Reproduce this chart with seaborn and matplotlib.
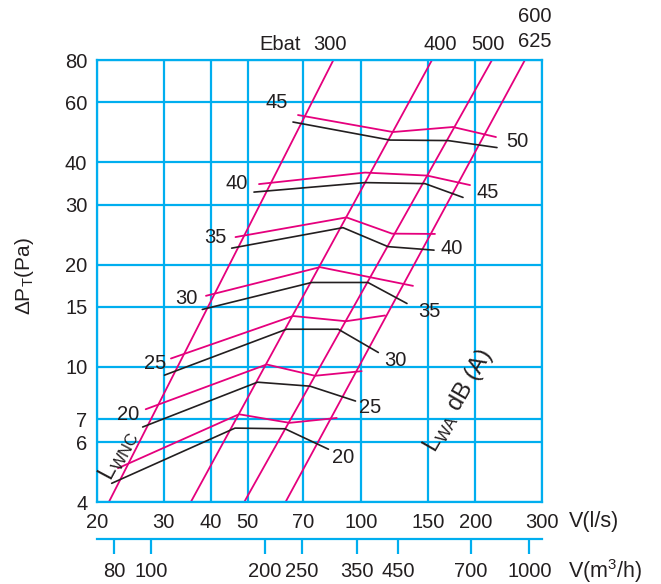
import numpy as np
import matplotlib
matplotlib.use("Agg")
import matplotlib.pyplot as plt
import seaborn as sns
from matplotlib.ticker import FixedLocator, FixedFormatter, NullLocator

# ---- axis ticks -------------------------------------------------------------
flow_ticks_ls = [20, 30, 40, 50, 70, 100, 150, 200, 300]
flow_ticks_m3h = [80, 100, 200, 250, 350, 450, 700, 1000]
pressure_ticks = [4, 6, 7, 10, 15, 20, 30, 40, 60, 80]

# ---- Ebat size lines: airflow (l/s) at 4 Pa and at 80 Pa ---------------------
ebat_sizes = ["300", "400", "500", "600\n625"]
ebat_dp = [4, 80]
ebat_v_low = [21.5, 35.4, 49.0, 63.0]
ebat_v_high = [84.3, 153.6, 221.3, 270.4]

# ---- sound level curves (V in l/s, dP in Pa) --------------------------------
# magenta family (left labels)
nc_levels = ["", "20", "25", "30", "35", "40", "45"]
nc_v = [
    [22.73, 47.46, 64.52, 86.0],
    [26.90, 56.17, 75.36, 100.1],
    [31.37, 65.92, 91.0, 115.4],
    [38.82, 77.69, 136.8],
    [46.46, 91.28, 120.4, 156.4],
    [53.60, 102.2, 149.0, 193.6],
    [67.96, 121.1, 174.5, 226.7],
]
nc_dp = [
    [5.03, 7.25, 6.84, 7.07],
    [7.50, 10.16, 9.41, 9.71],
    [10.58, 14.11, 13.62, 14.16],
    [16.18, 19.65, 17.31],
    [24.09, 27.53, 24.66, 24.61],
    [34.50, 37.30, 36.55, 34.27],
    [55.09, 49.10, 50.80, 47.46],
]
# black family (right labels, LWA dB(A))
lwa_levels = ["20", "25", "30", "35", "40", "45", "50"]
lwa_v = [
    [21.87, 46.32, 62.79, 81.8],
    [26.41, 53.11, 73.11, 96.42],
    [30.16, 63.35, 86.84, 110.8],
    [37.96, 73.87, 104.0, 131.9],
    [45.39, 89.36, 117.5, 155.5],
    [51.99, 102.2, 147.2, 185.5],
    [65.92, 118.9, 169.3, 228.1],
]
lwa_dp = [
    [4.54, 6.60, 6.57, 5.72],
    [6.65, 9.01, 8.77, 7.93],
    [9.45, 12.90, 12.90, 11.02],
    [14.75, 17.71, 17.71, 15.36],
    [22.35, 25.68, 22.58, 22.05],
    [32.68, 34.85, 34.61, 31.52],
    [52.54, 46.50, 46.34, 44.19],
]

# ---- label placement (data coordinates) --------------------------------------
nc_label_pos = [None, (24.15, 7.25), (28.5, 10.25), (34.4, 15.9),
                (41.0, 24.1), (46.9, 34.7), (59.8, 59.8)]
lwa_label_pos = [(89.4, 5.42), (105.3, 7.60), (122.6, 10.46), (150.8, 14.58),
                 (173.5, 22.35), (215.9, 32.5), (257.6, 46.2)]
ebat_label_x = [82.6, 161.3, 215.9, 287.3]

BLUE = "#00AEEF"
MAGENTA = "#E5007D"
INK = "#231F20"
FS = 14.5

sns.set_theme(style="white")
plt.rcParams["font.family"] = ["Liberation Sans", "DejaVu Sans"]
plt.rcParams["mathtext.fontset"] = "custom"
plt.rcParams["mathtext.rm"] = "Liberation Sans"
plt.rcParams["text.color"] = INK

fig = plt.figure(figsize=(6.61, 5.84), dpi=100)
ax = fig.add_axes([97 / 661, 82 / 584, 445 / 661, 442 / 584])
ax.set_xscale("log")
ax.set_yscale("log")

# Ebat diagonals
for lo, hi in zip(ebat_v_low, ebat_v_high):
    sns.lineplot(x=[lo, hi], y=ebat_dp, color=MAGENTA, lw=1.3, ax=ax,
                 sort=False, estimator=None)

# sound curves
for v, p in zip(nc_v, nc_dp):
    sns.lineplot(x=v, y=p, color=MAGENTA, lw=1.3, ax=ax, sort=False, estimator=None)
for v, p in zip(lwa_v, lwa_dp):
    sns.lineplot(x=v, y=p, color=INK, lw=1.2, ax=ax, sort=False, estimator=None)

ax.set_xlim(20, 300)
ax.set_ylim(4, 80)

ax.xaxis.set_major_locator(FixedLocator(flow_ticks_ls))
ax.xaxis.set_major_formatter(FixedFormatter([str(t) for t in flow_ticks_ls]))
ax.xaxis.set_minor_locator(NullLocator())
ax.yaxis.set_major_locator(FixedLocator(pressure_ticks))
ax.yaxis.set_major_formatter(FixedFormatter([str(t) for t in pressure_ticks]))
ax.yaxis.set_minor_locator(NullLocator())
ax.tick_params(axis="both", length=0, labelsize=FS, labelcolor=INK)
ax.tick_params(axis="x", pad=8)
ax.tick_params(axis="y", pad=7)
ax.grid(True, which="major", color=BLUE, lw=1.6)
ax.set_axisbelow(True)
for sp in ax.spines.values():
    sp.set_color(BLUE)
    sp.set_linewidth(1.6)
ax.set_xlabel("")
ax.set_ylabel("")

# secondary flow scale in m3/h
sec = ax.secondary_xaxis(-37 / 442, functions=(lambda v: np.asarray(v) * 3.6,
                                                lambda q: np.asarray(q) / 3.6))
sec.xaxis.set_major_locator(FixedLocator(flow_ticks_m3h))
sec.xaxis.set_major_formatter(FixedFormatter([str(t) for t in flow_ticks_m3h]))
sec.xaxis.set_minor_locator(NullLocator())
sec.tick_params(axis="x", direction="out", length=10.8, width=1.6, color=BLUE,
                pad=6, labelsize=FS, labelcolor=INK)
sec.spines["bottom"].set_color(BLUE)
sec.spines["bottom"].set_linewidth(1.6)

# curve labels
for lab, pos in zip(nc_levels, nc_label_pos):
    if pos is not None:
        ax.text(pos[0], pos[1], lab, ha="center", va="center", fontsize=FS)
for lab, pos in zip(lwa_levels, lwa_label_pos):
    ax.text(pos[0], pos[1], lab, ha="center", va="center", fontsize=FS)

ax.text(22.8, 5.5, r"L$_{\mathregular{WNC}}$", ha="center", va="center",
        rotation=62, fontsize=17, rotation_mode="anchor")
ax.text(179.9, 7.97, r"L$_{\mathregular{WA}}$ dB (A)", ha="center", va="center",
        rotation=60, fontsize=17, rotation_mode="anchor")

# Ebat size labels above the frame
xt = ax.get_xaxis_transform()
ax.text(60.9, 1.034, "Ebat", transform=xt, ha="center", va="center", fontsize=FS)
for lab, x in zip(ebat_sizes, ebat_label_x):
    if "\n" in lab:
        top, bottom = lab.split("\n")
        ax.text(x, 1.0973, top, transform=xt, ha="center", va="center", fontsize=FS)
        ax.text(x, 1.041, bottom, transform=xt, ha="center", va="center", fontsize=FS)
    else:
        ax.text(x, 1.034, lab, transform=xt, ha="center", va="center", fontsize=FS)

# axis titles
fig.text(25 / 661, 1 - 276 / 584, r"ΔP$_{\mathregular{T}}$(Pa)", rotation=90,
         ha="center", va="center", fontsize=FS + 0.5)
fig.text(594 / 661, 1 - 522 / 584, "V(l/s)", ha="center", va="center", fontsize=FS + 1)
fig.text(605 / 661, 1 - 571 / 584, r"V(m$^{\mathregular{3}}$/h)", ha="center",
         va="center", fontsize=FS + 1)

fig.savefig("out.png", dpi=100)
